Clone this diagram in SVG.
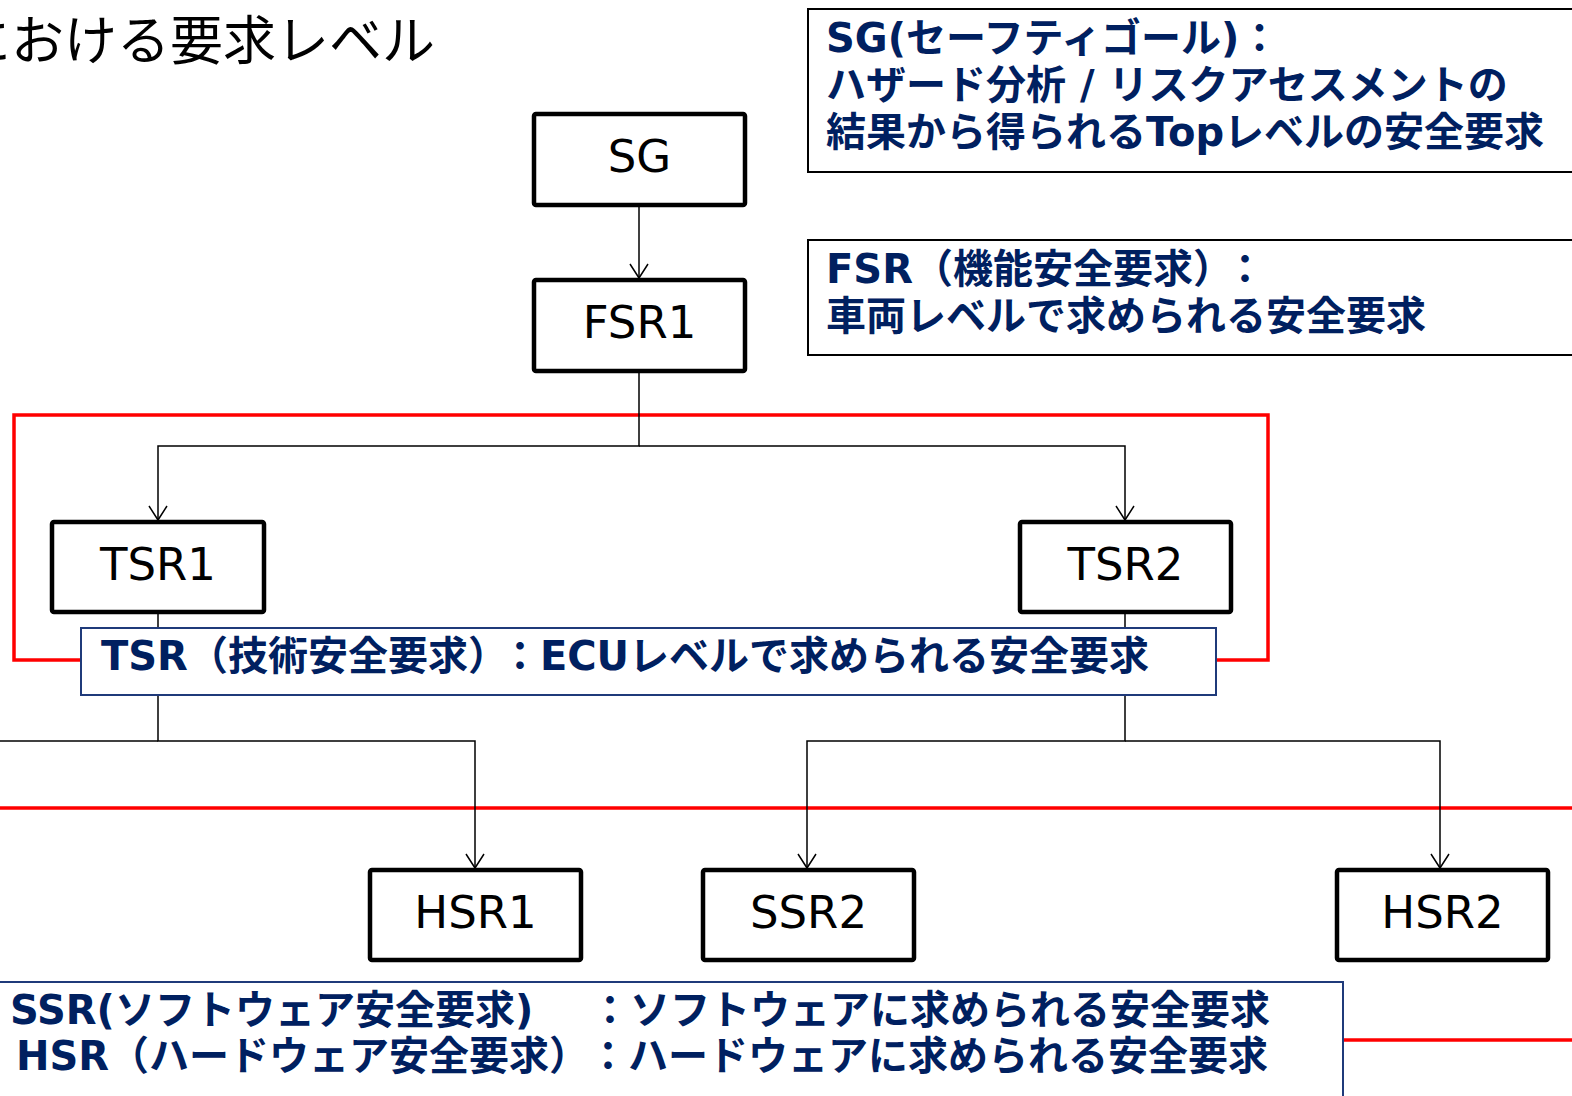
<svg xmlns="http://www.w3.org/2000/svg" width="1572" height="1096" viewBox="0 0 1572 1096">
<defs>
<style>
.node rect{fill:#fff;stroke:#000;stroke-width:4.5}
.node text{font-family:"DejaVu Sans","Noto Sans",sans-serif;font-size:45px;text-anchor:middle;fill:#000}
.conn{stroke:#000;stroke-width:1.5;fill:none}
.red{stroke:#ff0000;stroke-width:3.5;fill:none}
.box{fill:#fff;stroke:#000;stroke-width:2}
.nbox{fill:#fff;stroke:#1f3a7a;stroke-width:2}
.desc{font-family:"DejaVu Sans","Noto Sans CJK JP",sans-serif;font-weight:bold;font-size:40px;fill:#002060}
.title{font-family:"Noto Sans CJK JP",sans-serif;font-size:53px;fill:#000}
</style>
<marker id="arr" viewBox="0 0 20 20" refX="16" refY="10" markerWidth="20" markerHeight="20" markerUnits="userSpaceOnUse" orient="auto">
<path d="M2,1 L16,10 L2,19" fill="none" stroke="#000" stroke-width="1.5"/>
</marker>
</defs>
<rect width="1572" height="1096" fill="#fff"/>
<text class="title" x="435" y="60" text-anchor="end">における要求レベル</text>
<g id="red-frames">
<rect class="red" x="14" y="415" width="1254" height="245"/>
<line class="red" x1="0" y1="808" x2="1572" y2="808"/>
<line class="red" x1="1343" y1="1040" x2="1572" y2="1040"/>
</g>
<g id="connectors">
<path class="conn" d="M639,207 V278" marker-end="url(#arr)"/>
<path class="conn" d="M639,372 V446 H158 V520" marker-end="url(#arr)"/>
<path class="conn" d="M639,446 H1125 V520" marker-end="url(#arr)"/>
<path class="conn" d="M158,613 V741 H475 V868" marker-end="url(#arr)"/>
<path class="conn" d="M158,741 H-10"/>
<path class="conn" d="M1125,613 V741 H807 V868" marker-end="url(#arr)"/>
<path class="conn" d="M1125,741 H1440 V868" marker-end="url(#arr)"/>
</g>
<g id="SG" class="node"><rect x="534" y="114" width="211" height="91" rx="2"/><text x="639.5" y="172">SG</text></g>
<g id="FSR1" class="node"><rect x="534" y="280" width="211" height="91" rx="2"/><text x="639.5" y="338">FSR1</text></g>
<g id="TSR1" class="node"><rect x="52" y="522" width="212" height="90" rx="2"/><text x="158" y="580">TSR1</text></g>
<g id="TSR2" class="node"><rect x="1020" y="522" width="211" height="90" rx="2"/><text x="1125.5" y="580">TSR2</text></g>
<g id="HSR1" class="node"><rect x="370" y="870" width="211" height="90" rx="2"/><text x="475.5" y="928">HSR1</text></g>
<g id="SSR2" class="node"><rect x="703" y="870" width="211" height="90" rx="2"/><text x="808.5" y="928">SSR2</text></g>
<g id="HSR2" class="node"><rect x="1337" y="870" width="211" height="90" rx="2"/><text x="1442.5" y="928">HSR2</text></g>
<g id="SG-desc">
<rect class="box" x="808" y="9" width="800" height="163"/>
<text class="desc" x="826" y="52">SG(セーフティゴール)：</text>
<text class="desc" x="826" y="99">ハザード分析 / リスクアセスメントの</text>
<text class="desc" x="826" y="146">結果から得られるTopレベルの安全要求</text>
</g>
<g id="FSR-desc">
<rect class="box" x="808" y="240" width="800" height="115"/>
<text class="desc" x="826" y="283">FSR（機能安全要求）<tspan dx="12">：</tspan></text>
<text class="desc" x="826" y="330">車両レベルで求められる安全要求</text>
</g>
<g id="TSR-desc">
<rect class="nbox" x="81" y="628" width="1135" height="67"/>
<text class="desc" x="101" y="670">TSR（技術安全要求）<tspan dx="12">：ECUレベルで求められる安全要求</tspan></text>
</g>
<g id="SSR-HSR-desc">
<rect class="nbox" x="-10" y="982" width="1353" height="150"/>
<text class="desc" x="10" y="1024">SSR(ソフトウェア安全要求)<tspan x="590">：ソフトウェアに求められる安全要求</tspan></text>
<text class="desc" x="16" y="1070">HSR（ハードウェア安全要求）<tspan x="588">：ハードウェアに求められる安全要求</tspan></text>
</g>
</svg>
